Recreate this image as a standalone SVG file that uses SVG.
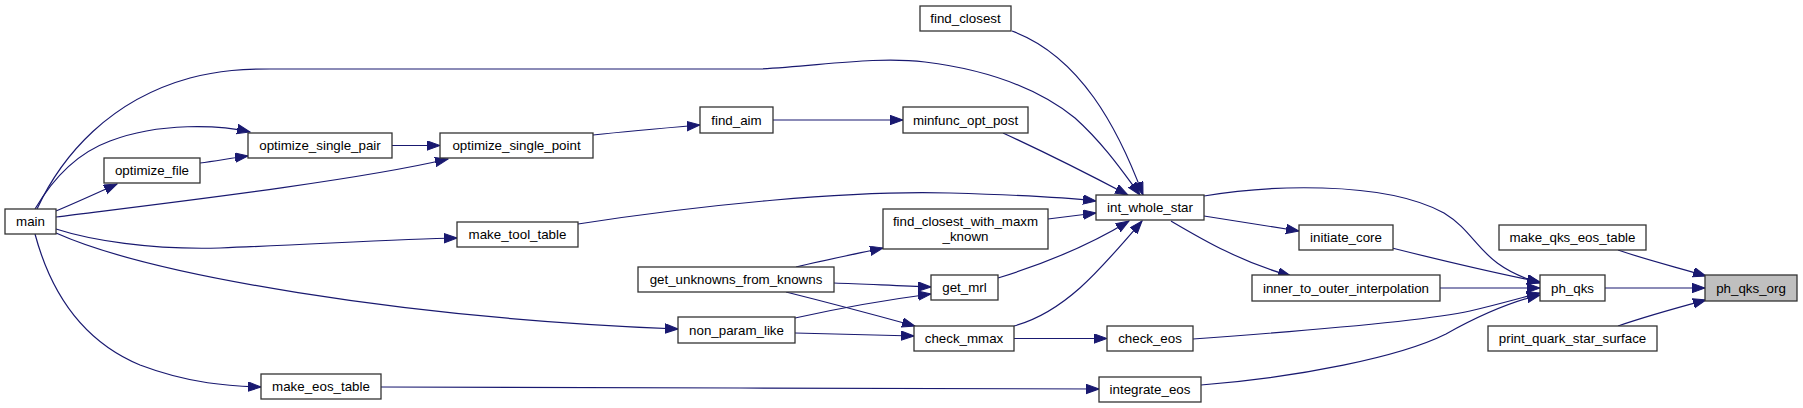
<svg xmlns="http://www.w3.org/2000/svg" width="1803" height="408" viewBox="0 0 1803 408">
<style>
.n rect{fill:#ffffff;stroke:#333333;stroke-width:1.3}
.n text{font-family:"Liberation Sans",Arial,sans-serif;font-size:13.33px;fill:#000000;text-anchor:middle}
.e path{fill:none;stroke:#191970;stroke-width:1.2;marker-end:url(#a)}
</style>
<defs>
<marker id="a" markerUnits="userSpaceOnUse" markerWidth="14" markerHeight="11" refX="13" refY="5" orient="auto">
<path d="M0,0.3 L13,5 L0,9.7 Z" fill="#191970" stroke="#191970" stroke-width="1"/>
</marker>
</defs>
<rect width="1803" height="408" fill="#ffffff"/>
<g id="connectors" class="e">
<path d="M1605,288 L1705,288"/>
<path d="M1618,250 C1650,261 1680,268 1706,276"/>
<path d="M1618,326 C1650,315 1680,307 1706,300"/>
<path d="M1392,248 C1440,260 1495,273 1540,282"/>
<path d="M1440,288 L1540,288"/>
<path d="M1204,196 C1262,186 1382,179 1444,213 C1480,235 1478,265 1540,283"/>
<path d="M1193,339 C1290,332 1420,322 1470,311 C1500,304 1520,298 1540,293"/>
<path d="M1201,385 C1300,377 1400,357 1446,334 C1480,315 1510,302 1540,295"/>
<path d="M1204,216 C1235,221 1268,226 1299,231"/>
<path d="M1171,221 C1200,238 1240,262 1291,276"/>
<path d="M1012,31 C1080,56 1118,128 1143,195"/>
<path d="M37,209 C62,155 110,100 190,78 C220,70 245,69 270,69 L760,69 C820,66 875,56 925,62 C990,70 1040,90 1075,118 C1105,145 1125,175 1140,195"/>
<path d="M1003,133 C1040,150 1090,175 1128,195"/>
<path d="M578,224 C700,205 850,190 950,193 C1020,195 1070,198 1096,201"/>
<path d="M1048,219 C1064,217 1080,215 1096,213"/>
<path d="M998,278 C1040,265 1090,245 1129,221"/>
<path d="M1014,326 C1065,312 1100,270 1142,221"/>
<path d="M773,120 L903,120"/>
<path d="M593,135 C630,131 665,128 700,125"/>
<path d="M392,145.5 L440,145.5"/>
<path d="M56,217 C150,205 350,182 448,159"/>
<path d="M200,163 C216,161 232,158 248,156"/>
<path d="M35,209 C55,175 80,152 110,141 C160,122 220,125 250,132"/>
<path d="M56,211 C75,203 95,194 117,184"/>
<path d="M56,229 C90,240 150,250 220,248 C320,244 400,239 457,238"/>
<path d="M56,233 C150,275 400,318 678,329"/>
<path d="M35,234 C50,290 80,340 140,365 C190,384 230,386 261,387"/>
<path d="M796,267 C825,260 855,254 883,248"/>
<path d="M834,283 C866,284 898,286 931,287"/>
<path d="M786,292 C830,303 875,315 915,326"/>
<path d="M795,318 C840,308 885,300 931,294"/>
<path d="M795,333 C835,334 875,335 914,336"/>
<path d="M1014,338.5 L1107,338.5"/>
<path d="M381,387 C620,388 860,388 1099,389"/>
</g>
<g id="main" class="n"><rect x="5" y="209" width="51" height="25"/><text x="30.5" y="226.3">main</text></g>
<g id="optimize_file" class="n"><rect x="104" y="158" width="96" height="25"/><text x="152" y="175.3">optimize_file</text></g>
<g id="optimize_single_pair" class="n"><rect x="248" y="133" width="144" height="25"/><text x="320" y="150.3">optimize_single_pair</text></g>
<g id="optimize_single_point" class="n"><rect x="440" y="133" width="153" height="25"/><text x="516.5" y="150.3">optimize_single_point</text></g>
<g id="make_tool_table" class="n"><rect x="457" y="222" width="121" height="25"/><text x="517.5" y="239.3">make_tool_table</text></g>
<g id="make_eos_table" class="n"><rect x="261" y="374" width="120" height="25"/><text x="321" y="391.3">make_eos_table</text></g>
<g id="find_aim" class="n"><rect x="700" y="107" width="73" height="26"/><text x="736.5" y="124.8">find_aim</text></g>
<g id="minfunc_opt_post" class="n"><rect x="903" y="107" width="125" height="26"/><text x="965.5" y="124.8">minfunc_opt_post</text></g>
<g id="find_closest" class="n"><rect x="920" y="6" width="91" height="25"/><text x="965.5" y="23.3">find_closest</text></g>
<g id="get_unknowns_from_knowns" class="n"><rect x="638" y="267" width="196" height="25"/><text x="736" y="284.3">get_unknowns_from_knowns</text></g>
<g id="non_param_like" class="n"><rect x="678" y="317" width="117" height="26"/><text x="736.5" y="334.8">non_param_like</text></g>
<g id="find_closest_with_maxm_known" class="n"><rect x="883" y="209" width="165" height="40"/><text x="965.5" y="225.5">find_closest_with_maxm</text><text x="965.5" y="240.5">_known</text></g>
<g id="get_mrl" class="n"><rect x="931" y="275" width="67" height="25"/><text x="964.5" y="292.3">get_mrl</text></g>
<g id="check_mmax" class="n"><rect x="914" y="326" width="100" height="25"/><text x="964" y="343.3">check_mmax</text></g>
<g id="int_whole_star" class="n"><rect x="1096" y="195" width="108" height="25"/><text x="1150" y="212.3">int_whole_star</text></g>
<g id="check_eos" class="n"><rect x="1107" y="326" width="86" height="25"/><text x="1150" y="343.3">check_eos</text></g>
<g id="integrate_eos" class="n"><rect x="1099" y="377" width="102" height="25"/><text x="1150" y="394.3">integrate_eos</text></g>
<g id="initiate_core" class="n"><rect x="1299" y="225" width="94" height="25"/><text x="1346" y="242.3">initiate_core</text></g>
<g id="inner_to_outer_interpolation" class="n"><rect x="1252" y="275" width="188" height="26"/><text x="1346" y="292.8">inner_to_outer_interpolation</text></g>
<g id="ph_qks" class="n"><rect x="1540" y="275" width="65" height="26"/><text x="1572.5" y="292.8">ph_qks</text></g>
<g id="make_qks_eos_table" class="n"><rect x="1499" y="225" width="147" height="25"/><text x="1572.5" y="242.3">make_qks_eos_table</text></g>
<g id="print_quark_star_surface" class="n"><rect x="1488" y="326" width="169" height="25"/><text x="1572.5" y="343.3">print_quark_star_surface</text></g>
<g id="ph_qks_org" class="n"><rect x="1705" y="275" width="92" height="26" style="fill:#bfbfbf"/><text x="1751" y="292.8">ph_qks_org</text></g>
</svg>
